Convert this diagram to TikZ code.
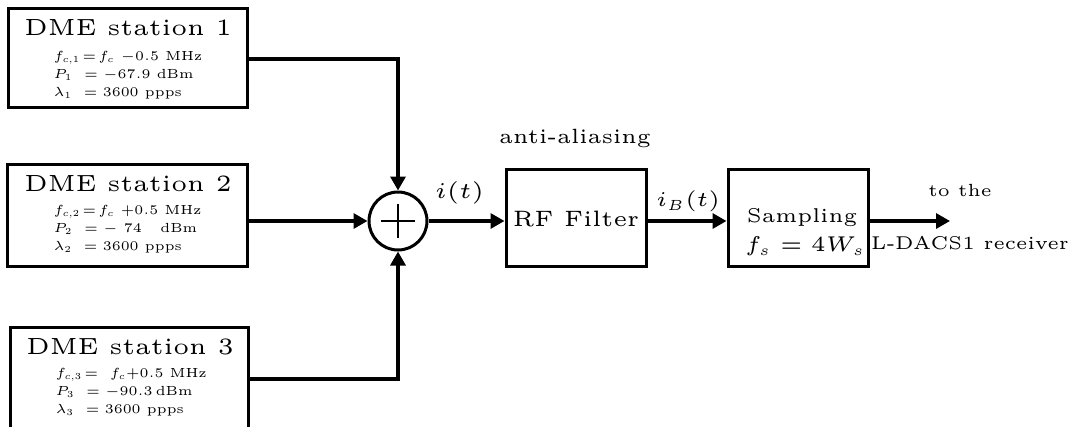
\RequirePackage{fix-cm}
\documentclass[tikz,border=0pt]{standalone}
\usetikzlibrary{arrows.meta}
\DeclareMathSizes{5}{5}{3.5}{2.5}
\begin{document}
\begin{tikzpicture}[x=1pt,y=-1pt,
  blk/.style={draw, line width=3pt, inner sep=0pt},
  conn/.style={line width=3.2pt, -{Triangle[length=14pt,width=15pt]}},
  big/.style={font=\fontsize{5}{6}\selectfont, inner sep=0pt, scale=4.68},
  sm/.style={font=\fontsize{5}{6.8}\selectfont, inner sep=0pt, scale=2.64, align=left, anchor=west},
  lbl/.style={font=\fontsize{5}{6}\selectfont, inner sep=0pt, scale=4},
]
\clip (0,0) rectangle (1076,426);
% source boxes
\node[blk, minimum width=239pt, minimum height=99pt] (b1) at (127.5,57.5) {};
\node[blk, minimum width=240pt, minimum height=102pt] (b2) at (127,215) {};
\node[blk, minimum width=238pt, minimum height=200pt, anchor=north] (b3) at (129,326) {};
% box texts
\node[big] (t1) at (128,28) {DME station 1};
\node[sm] (s1) at (53,75) {$f_{c,1}\!=\!f_c$ $-0.5$ MHz\\$P_1\ = -67.9$ dBm\\$\lambda_1\ = 3600$ ppps};
\node[big] (t2) at (128,184) {DME station 2};
\node[sm] (s2) at (53,229) {$f_{c,2}\!=\!f_c$ $+0.5$ MHz\\$P_2\ =-\ 74\ \ $ dBm\\$\lambda_2\ = 3600$ ppps};
\node[big] (t3) at (130,347) {DME station 3};
\node[sm] (s3) at (55,392) {$f_{c,3}\!=\ f_c{+}0.5$ MHz\\$P_3\ = -90.3\,$dBm\\$\lambda_3\ = 3600$ ppps};
% summer
\node[draw, circle, line width=3pt, minimum size=58pt, inner sep=0pt] (sum) at (398,221) {};
\draw[line width=2pt] (sum.center) ++(-17,0) -- ++(34,0);
\draw[line width=2pt] (sum.center) ++(0,-17) -- ++(0,34);
% processing blocks
\node[blk, minimum width=140pt, minimum height=97pt] (rf) at (576,217.5) {};
\node[lbl, scale=1.115] (rft) at (576,219) {RF Filter};
\node[lbl, scale=1.03] (aa) at (575,138) {anti-aliasing};
\node[blk, minimum width=140pt, minimum height=97pt] (smp) at (798,217.5) {};
\node[lbl] (smt1) at (802,218) {Sampling};
\node[lbl, scale=1.07] (smt2) at (805,246) {$f_s=4W_s$};
\coordinate (out) at (950,221);
\node[lbl, scale=0.88] (to) at (960,190) {to the};
\node[lbl, scale=0.925] (rx) at (970,243) {L-DACS1 receiver};
% signal labels
\node[lbl, scale=1.125] (it) at (459.5,193) {$i(t)$};
\node[lbl, scale=1.05] (ib) at (688,201) {$i_B(t)$};
% connectors
\draw[conn] (b1.east |- 0,59) -| (sum.north);
\draw[conn] (b2.east |- sum.west) -- (sum.west);
\draw[conn] (b3.east |- 0,379) -| (sum.south);
\draw[conn] (sum.east) -- (rf.west |- sum.east);
\draw[conn] (rf.east |- sum.east) -- (smp.west |- sum.east);
\draw[conn] (smp.east |- sum.east) -- (out);
\end{tikzpicture}
\end{document}
